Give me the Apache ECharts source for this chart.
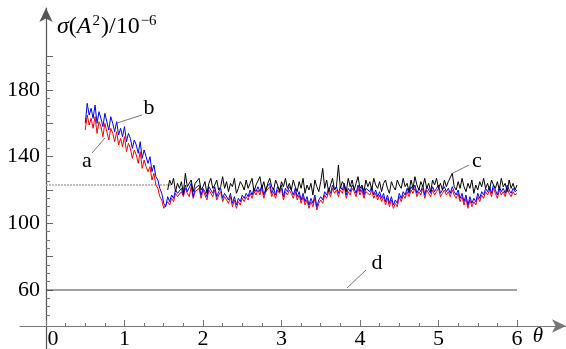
<!DOCTYPE html>
<html>
<head>
<meta charset="utf-8">
<script src="https://cdn.jsdelivr.net/npm/echarts@6/dist/echarts.min.js"></script>
<style>
  html, body { margin: 0; padding: 0; background: #fff; }
  #chart { width: 566px; height: 349px; }
</style>
</head>
<body>
<div id="chart"></div>
<script>
// theta sampling of the curves
const step = 0.025
const abStart = 0.5
const cStart = 1.55

// curve a (red)
const redVals = [
  156,165,159,163,157,164,154,161, 158,152,160,155,150,157,154,149,
  155,147,151,146,152,143,148,145, 139,144,141,136,143,133,138,134,
  131,134,126,130,123,121,116,114, 109,108,113,111,115,113,118,116,
  115,
  119,116,121,118,116,122,115,119, 118,121,115,120,117,114,120,118,
  116,120,114,117,119,113,116,115, 112,116,110,114,109,113,111,115,
  113,116,114,118,115,119,117,120, 117,121,115,119,118,122,116,119,
  115,120,118,121,114,119,117,120, 118,115,119,114,117,112,116,111,
  114,109,113,110,115,108,112,114, 112,117,115,119,116,121,118,120,
  116,120,118,122,115,119,117,121, 119,116,121,117,120,115,119,118,
  117,120,115,118,114,117,113,116, 111,115,110,114,109,112,110,116,
  113,117,115,119,116,120,118,121, 116,119,117,121,115,120,118,116,
  120,117,119,121,116,118,120,117, 119,116,120,117,115,118,113,116,
  111,115,109,114,110,113,111,116, 113,117,115,119,117,120,116,121,
  118,115,120,117,119,116,121,118, 116,119,117,118
]

// curve b (blue)
const blueVals = [
  160,172,165,169,163,171,160,167, 163,158,166,161,156,164,160,155,
  161,153,157,152,158,149,154,151, 145,150,147,142,149,139,144,140,
  136,140,131,135,128,126,121,118, 112,110,116,113,117,115,120,118,
  117,
  121,117,123,119,118,124,116,121, 120,123,117,121,119,116,122,120,
  118,122,116,119,121,115,118,117, 114,118,112,116,111,115,113,117,
  115,118,116,120,117,121,119,122, 119,123,117,121,120,124,118,121,
  117,122,120,123,116,121,119,122, 120,117,121,116,119,114,118,113,
  116,111,115,112,117,110,114,116, 114,119,117,121,118,123,120,122,
  118,122,120,124,117,121,119,123, 121,118,123,119,122,117,121,120,
  119,122,117,120,116,119,115,118, 113,117,112,116,111,114,112,118,
  115,119,117,121,118,122,120,123, 118,121,119,123,117,122,120,118,
  122,119,121,123,118,120,122,119, 121,118,122,119,117,120,115,118,
  113,117,111,116,112,115,113,118, 115,119,117,121,119,122,118,123,
  120,117,122,119,121,118,123,120, 118,121,119,120
]

// curve c (black)
const blackVals = [
  120,126,123,127,119,124,121,125, 118,130,122,121,126,119,124,123,
  127,120,122,125,118,124,127,121, 123,126,120,122,128,121,125,119,
  124,122,127,118,121,125,123,120, 126,121,124,127,119,123,122,128,
  121,125,119,124,127,122,120,126, 123,119,125,122,127,121,124,120,
  126,122,119,125,121,127,118,123, 120,124,117,126,122,119,125,133,
  121,126,119,123,127,120,122,135, 121,125,123,119,127,122,126,120,
  124,128,121,123,119,126,122,125, 120,127,123,121,125,119,124,126,
  121,118,125,122,120,126,123,121, 127,122,124,119,126,121,128,123,
  120,125,122,127,121,124,119,126, 123,127,121,124,120,126,122,125,
  124,130,122,120,125,121,127,122, 119,124,121,126,118,123,120,125,
  122,127,121,124,120,126,123,121, 125,120,127,122,124,119,126,121,
  124,120,123
]

// line d and the dotted reference level
const lineD = [[0, 60], [6, 60]]
const refLevel = [[0, 123], [1.6, 123]]

// axes
const xLabels = [0, 1, 2, 3, 4, 5, 6]
const xMinorTicks = [0.25,0.5,0.75,1.25,1.5,1.75,2.25,2.5,2.75,3.25,3.5,3.75,4.25,4.5,4.75,5.25,5.5,5.75]
const yLabels = [60, 100, 140, 180]
const yMajorTicks = [60, 80, 100, 120, 140, 160, 180, 200]
const yMinorTicks = [45,50,55,65,70,75,85,90,95,105,110,115,125,130,135,145,150,155,165,170,175,185,190,195]

const toPairs = (start, vals) => vals.map((v, i) => [+(start + i * step).toFixed(3), v])

const serif = '"Liberation Serif", "Times New Roman", serif'
const xRange = { min: -0.3312, max: 6.6242 }
const yRange = { min: 24.6, max: 229.2 }

const myChart = echarts.init(document.getElementById('chart'))

const option = {
  animation: false,
  grid: { left: 20, right: 0, top: 8, bottom: 0, outerBoundsMode: 'none' },
  xAxis: [
    {
      type: 'value', position: 'bottom', offset: -23, ...xRange,
      splitLine: { show: false },
      axisLine: { onZero: false, symbol: ['none', 'arrow'], symbolSize: [10, 14], lineStyle: { color: '#777', width: 1.2 } },
      axisTick: { inside: true, length: 6, customValues: xLabels, lineStyle: { color: '#777' } },
      axisLabel: {
        customValues: xLabels, margin: 2, color: '#000', fontFamily: serif, fontSize: 22,
        formatter: v => v === 0 ? '{z|0}' : String(v),
        rich: { z: { padding: [0, 0, 0, 14], fontFamily: serif, fontSize: 22, color: '#000' } }
      }
    },
    {
      type: 'value', position: 'bottom', offset: -23, ...xRange,
      splitLine: { show: false },
      axisLine: { show: false },
      axisTick: { inside: true, length: 3, customValues: xMinorTicks, lineStyle: { color: '#777' } },
      axisLabel: { show: false }
    }
  ],
  yAxis: [
    {
      type: 'value', position: 'left', offset: -26, ...yRange,
      splitLine: { show: false },
      name: '{i|σ}{n|(}{i|A}{s|2}{n|)/10}{s|−6}',
      nameLocation: 'end', nameGap: -19,
      nameTextStyle: {
        align: 'left', verticalAlign: 'middle', padding: [0, 0, 0, 11],
        rich: {
          i: { fontFamily: serif, fontStyle: 'italic', fontSize: 24, color: '#000', lineHeight: 26 },
          n: { fontFamily: serif, fontSize: 24, color: '#000', lineHeight: 26 },
          s: { fontFamily: serif, fontSize: 15, color: '#000', verticalAlign: 'top', lineHeight: 26, padding: [0, 1, 6, 1] }
        }
      },
      axisLine: { onZero: false, symbol: ['none', 'arrow'], symbolSize: [10, 14], lineStyle: { color: '#555', width: 1.2 } },
      axisTick: { inside: true, length: 7, customValues: yMajorTicks, lineStyle: { color: '#666' } },
      axisLabel: { customValues: yLabels, margin: 6, color: '#000', fontFamily: serif, fontSize: 22 }
    },
    {
      type: 'value', position: 'left', offset: -26, ...yRange,
      splitLine: { show: false },
      axisLine: { show: false },
      axisTick: { inside: true, length: 4, customValues: yMinorTicks, lineStyle: { color: '#777' } },
      axisLabel: { show: false }
    }
  ],
  series: [
    {
      type: 'line', data: refLevel, showSymbol: false, silent: true,
      lineStyle: { color: '#aaa', width: 1.5, type: [2, 1] }
    },
    {
      type: 'line', data: lineD, showSymbol: false, silent: true,
      lineStyle: { color: '#444', width: 1 }
    },
    {
      type: 'line', data: toPairs(abStart, redVals), showSymbol: false, sampling: 'none',
      lineStyle: { color: '#ff0000', width: 1 }
    },
    {
      type: 'line', data: toPairs(abStart, blueVals), showSymbol: false, sampling: 'none',
      lineStyle: { color: '#0000ff', width: 1 }
    },
    {
      type: 'line', data: toPairs(cStart, blackVals), showSymbol: false, sampling: 'none',
      lineStyle: { color: '#000', width: 1 }
    }
  ],
  graphic: [
    // curve labels with leader lines
    { type: 'line', shape: { x1: 92, y1: 153, x2: 105, y2: 138 }, style: { stroke: '#555', lineWidth: 0.8 }, z: 10 },
    { type: 'line', shape: { x1: 117, y1: 123, x2: 142, y2: 115 }, style: { stroke: '#555', lineWidth: 0.8 }, z: 10 },
    { type: 'line', shape: { x1: 453, y1: 173, x2: 469, y2: 165 }, style: { stroke: '#555', lineWidth: 0.8 }, z: 10 },
    { type: 'line', shape: { x1: 347, y1: 288, x2: 366, y2: 270 }, style: { stroke: '#555', lineWidth: 0.8 }, z: 10 },
    { type: 'text', x: 87, y: 161, style: { text: 'a', font: '22px ' + serif, fill: '#000', align: 'center', verticalAlign: 'middle' }, z: 10 },
    { type: 'text', x: 149, y: 108, style: { text: 'b', font: '22px ' + serif, fill: '#000', align: 'center', verticalAlign: 'middle' }, z: 10 },
    { type: 'text', x: 477, y: 161, style: { text: 'c', font: '22px ' + serif, fill: '#000', align: 'center', verticalAlign: 'middle' }, z: 10 },
    { type: 'text', x: 377, y: 263, style: { text: 'd', font: '22px ' + serif, fill: '#000', align: 'center', verticalAlign: 'middle' }, z: 10 },
    { type: 'text', x: 538, y: 336, style: { text: 'θ', font: 'italic 21px ' + serif, fill: '#000', align: 'center', verticalAlign: 'middle' }, z: 10 }
  ]
}

option && myChart.setOption(option)
</script>
</body>
</html>
